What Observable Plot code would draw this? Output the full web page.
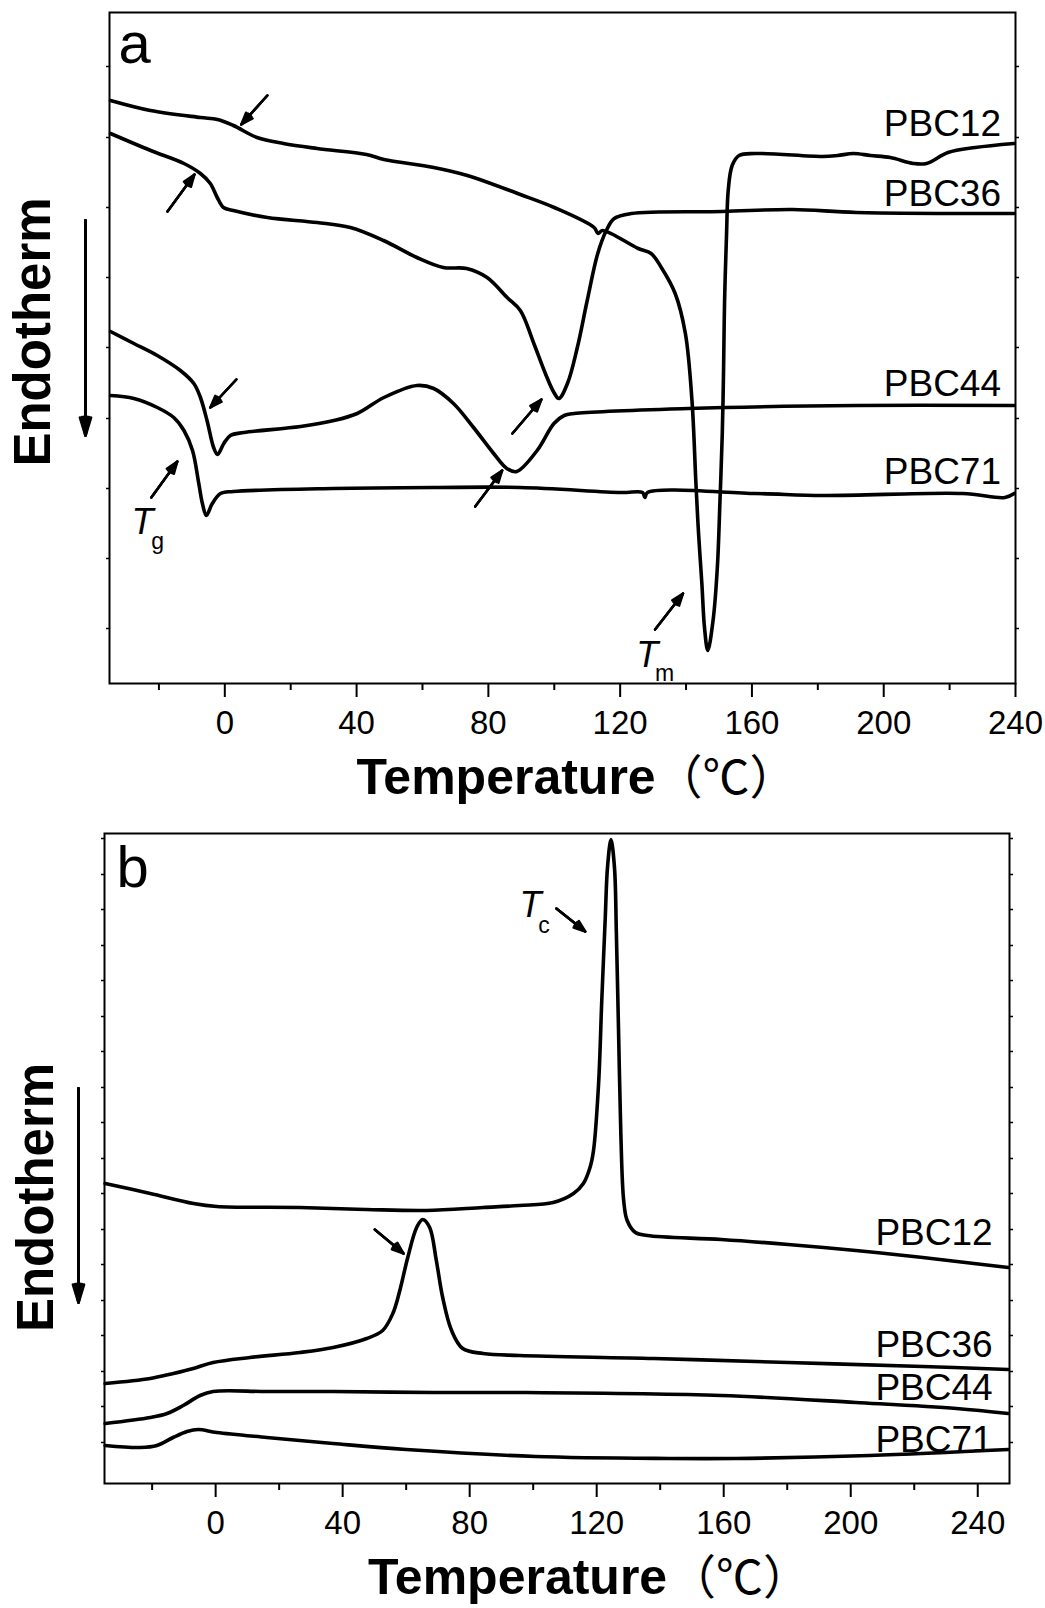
<!DOCTYPE html>
<html>
<head>
<meta charset="utf-8">
<script src="https://cdn.jsdelivr.net/npm/d3@7"></script>
<script src="https://cdn.jsdelivr.net/npm/@observablehq/plot@0.6"></script>
<style>
  body { margin: 0; background: #fff; }
  #chart svg { display: block; }
</style>
</head>
<body>
<div id="chart"></div>
<script>
// ---------- shared ----------
const seriesNames = ["PBC12", "PBC36", "PBC44", "PBC71"];
const xMajorTicks = [0, 40, 80, 120, 160, 200, 240];
const xMinorTicks = [-20, 20, 60, 100, 140, 180, 220];
const xLabelMain = "Temperature";
const xLabelUnit = "（℃）";
const yLabel = "Endotherm";

// ---------- panel a (heating): [temperature °C, heat flow a.u.] ----------
const aPBC12 = [[-34.7,58.3],[-22.6,57.3],[-7.4,56.6],[-2.2,56.4],[2.6,55.8],[9.8,54.6],[17.8,54.0],[28,53.5],[43,52.9],[48.3,52.4],[63.4,51.6],[73.6,50.8],[89.7,48.9],[100,47.6],[112.1,45.6],[113.3,45.0],[114.6,45.3],[125.5,43.5],[129.4,43.0],[132.5,41.6],[136.7,39.0],[139.8,35.0],[141.8,28.3],[143,20.0],[143.8,15.0],[144.8,10.0],[145.6,5.6],[146.6,3.3],[148.2,6.3],[149.5,11.6],[150.3,18.3],[151,25.0],[151.4,31.6],[151.7,38.3],[152.3,45.0],[152.8,49.3],[154,51.8],[156.1,52.8],[161,53.0],[181.6,52.7],[186,52.8],[190.8,53.0],[196,52.8],[202,52.6],[209,52.0],[213,52.0],[219.5,53.1],[227.8,53.6],[239.6,54.0]];
const aPBC36 = [[-34.7,55.0],[-22.5,53.3],[-12.4,52.0],[-7.4,51.0],[-4.4,50.0],[-2.3,48.6],[-0.4,47.6],[2.6,47.3],[12.9,46.6],[28,46.1],[38.1,45.6],[48.2,44.3],[58.3,42.6],[66.3,41.6],[73.4,41.5],[79.6,40.6],[85.7,38.6],[89.7,37.3],[93.8,34.0],[97.3,31.0],[99.9,29.1],[101.4,28.5],[104,30.0],[107,33.6],[110,38.3],[113.2,43.0],[115.8,45.3],[118.2,46.5],[123.4,47.0],[151,47.2],[172.4,47.4],[191.7,47.1],[239.6,47.0]];
const aPBC44 = [[-34.7,35.2],[-27.6,34.0],[-20.5,32.8],[-13.5,31.3],[-9.4,30.0],[-7.4,28.6],[-5.4,26.3],[-3.4,23.6],[-2.2,22.9],[-0.3,24.0],[1.7,24.8],[5.8,25.1],[23,25.7],[33.1,26.3],[40.2,27.0],[48.3,28.6],[58.3,29.8],[63.4,29.5],[69.4,28.0],[75.5,25.6],[81.6,23.0],[85.6,21.5],[88.6,21.2],[94.8,23.3],[99.9,26.0],[103,26.8],[106,27.0],[140.7,27.5],[191.9,27.8],[239.6,27.8]];
const aPBC71 = [[-34.7,28.8],[-27.6,28.5],[-20.5,27.6],[-15.5,26.6],[-12.4,25.3],[-9.8,23.3],[-7.9,20.0],[-6.8,18.0],[-5.6,16.8],[-3.8,18.0],[-1.3,19.0],[2.6,19.2],[33,19.5],[63.4,19.6],[89.7,19.6],[120.3,19.1],[126.8,19.1],[127.5,18.6],[128.3,19.1],[161.2,19.0],[181.6,18.8],[224,19.0],[236.8,18.6],[239.6,19.0]];

// ---------- panel b (cooling) ----------
const bPBC12 = [[-34.8,30.0],[-20.6,29.0],[-7,28.0],[0.4,27.7],[26.5,27.6],[47.5,27.4],[66.4,27.3],[84.2,27.6],[95.7,27.8],[106.3,28.1],[112.7,29.0],[115.8,30.0],[117.9,31.6],[119,33.3],[120.6,40.0],[121.6,48.3],[122.7,56.6],[123.4,61.6],[124.5,64.4],[125.6,61.6],[126.2,55.0],[126.9,45.0],[127.6,35.0],[128.5,28.3],[129.6,26.3],[132.2,25.1],[135.9,24.8],[159.2,24.4],[180.3,23.9],[201.6,23.3],[222.7,22.6],[249.6,21.6]];
const bPBC36 = [[-34.8,10.0],[-20.6,10.5],[-13.3,11.0],[-7,11.5],[-0.8,12.1],[10.8,12.6],[26.5,13.1],[37,13.6],[47.6,14.5],[52.6,15.3],[55.8,17.0],[58,19.3],[60.5,22.6],[63.3,25.6],[65.2,26.4],[67.4,25.6],[69.5,22.3],[71.5,18.6],[74.3,15.3],[77.8,13.5],[84.2,13.0],[95.7,12.8],[138,12.5],[180.3,12.1],[222.7,11.7],[249.6,11.4]];
const bPBC44 = [[-34.8,6.0],[-20.6,6.6],[-15.3,7.0],[-10.2,7.8],[-4.9,8.8],[-0.8,9.2],[16,9.2],[37,9.2],[68.4,9.1],[95.7,9.1],[159.2,8.8],[201.6,8.1],[233.3,7.5],[249.6,7.0]];
const bPBC71 = [[-34.8,3.8],[-23.8,3.6],[-18.5,3.8],[-13.4,4.6],[-9,5.2],[-5.5,5.4],[0.4,5.1],[16.1,4.6],[37,4.0],[60,3.4],[100.7,2.7],[142.8,2.5],[163.8,2.5],[206,2.8],[249.6,3.4]];

// ---------- annotations (data units) ----------
const aLabelT = 235.6;
const aLabelV = [54.8, 47.8, 28.8, 20.0];
const bLabelT = 244.7;
const bLabelV = [23.9, 12.7, 8.4, 3.2];
// small arrows: [t tail, v tail, t tip, v tip]
const aArrows = [[12.9,58.8,5.0,55.9],[-17.4,47.2,-9.2,50.9],[3.5,30.4,-4.4,27.6],[-22.3,18.6,-14.4,22.2],[76,17.7,84.2,21.3],[87.3,25.0,96.1,28.4],[130.6,5.4,139.1,9.0]];
const bArrows = [[107.3,57.5,116.4,55.2],[50.1,25.4,59.2,23.0]];
const aSymT = [[-28.3,15.0],[124.9,1.7]];
const aSymSub = [[-22.3,13.45,"g"],[130.6,0.3,"m"]];
const bSymT = [[95.7,56.7]];
const bSymSub = [[101.6,55.1,"c"]];
const aYTicks = [5.5,12.5,19.5,26.5,33.6,40.6,47.6,54.6,61.7];
const bYTicks = [4.1,7.7,11.2,14.8,18.3,21.9,25.4,29.0,32.5,36.1,39.6,43.2,46.7,50.3,53.8,57.4,60.9,64.5];
const aEndoArrow = [[46.3, 24.8]];
const bEndoArrow = [[39.5, 18.1]];

const FONT = "'Liberation Sans', Arial, Helvetica, sans-serif";
const CJK = "'Noto Sans CJK SC', 'Liberation Sans', sans-serif";

function rowsOf(list) {
  return list.flatMap((pts, i) => pts.map(([t, v]) => ({series: seriesNames[i], t, v})));
}

function filledArrows(data, opts = {}) {
  const {dx = 0, dy = 0, strokeWidth = 2.4, headLength = 8, headAngle = 40} = opts;
  return [headAngle, headAngle * 0.6, headAngle * 0.3].map((ang) =>
    Plot.arrow(data, {
      x1: (d) => d[0], y1: (d) => d[1], x2: (d) => d[2], y2: (d) => d[3],
      dx, dy, stroke: "black", strokeWidth, headLength, headAngle: ang
    })
  );
}

function panel(cfg) {
  const xMin = cfg.xDomain[0];
  return Plot.plot({
    width: 1045,
    height: cfg.height,
    marginTop: cfg.marginTop,
    marginBottom: cfg.marginBottom,
    marginLeft: cfg.marginLeft,
    marginRight: cfg.marginRight,
    style: {fontFamily: FONT, background: "white", color: "black", overflow: "visible"},
    x: {domain: cfg.xDomain, label: null},
    y: {domain: cfg.yDomain, label: null},
    marks: [
      Plot.axisX({ticks: xMajorTicks, tickSize: 14, tickPadding: cfg.tickPadding, fontSize: 33, strokeWidth: 2, label: null, tickFormat: (d) => String(d)}),
      Plot.axisX({ticks: xMinorTicks, tickSize: 7, strokeWidth: 2, label: null, tickFormat: () => ""}),
      Plot.axisY({anchor: "left", ticks: cfg.yTicks, tickSize: 3, strokeWidth: 1.5, label: null, tickFormat: () => ""}),
      Plot.axisY({anchor: "right", ticks: cfg.yTicks, tickSize: 3, strokeWidth: 1.5, label: null, tickFormat: () => ""}),
      Plot.frame({stroke: "black", strokeWidth: 2}),
      Plot.line(cfg.rows, {x: "t", y: "v", z: "series", curve: "catmull-rom", stroke: "black", strokeWidth: 3.6, strokeLinejoin: "round", strokeLinecap: "round"}),
      Plot.text(seriesNames, {x: () => cfg.labelT, y: (d, i) => cfg.labelV[i], text: (d) => d, textAnchor: "end", lineAnchor: "bottom", fontSize: 37, fill: "black"}),
      ...filledArrows(cfg.arrows, {strokeWidth: 2.4, headLength: 8, headAngle: 40}),
      Plot.text(cfg.symT, {x: (d) => d[0], y: (d) => d[1], text: () => "T", textAnchor: "start", lineAnchor: "bottom", fontSize: 36, fontStyle: "italic", fill: "black"}),
      Plot.text(cfg.symSub, {x: (d) => d[0], y: (d) => d[1], text: (d) => d[2], textAnchor: "start", lineAnchor: "bottom", fontSize: 23, fill: "black"}),
      Plot.text([cfg.letter], {frameAnchor: "top-left", dx: cfg.letterDx, dy: cfg.letterDy, textAnchor: "start", lineAnchor: "bottom", fontSize: 58, fill: "black"}),
      Plot.text([yLabel], {frameAnchor: "left", dx: cfg.endoDx, dy: cfg.endoDy, rotate: -90, textAnchor: "middle", lineAnchor: "middle", fontSize: 51, fontWeight: "bold", fill: "black"}),
      ...filledArrows(cfg.endoArrow.map(([v1, v2]) => [xMin, v1, xMin, v2]), {dx: cfg.arrowDx, strokeWidth: 2.8, headLength: 10, headAngle: 34}),
      Plot.text([xLabelMain], {frameAnchor: "bottom", dx: cfg.tempDx, dy: cfg.tempDy, textAnchor: "start", lineAnchor: "bottom", fontSize: 50, fontWeight: "bold", fill: "black"}),
      Plot.text([xLabelUnit], {frameAnchor: "bottom", dx: cfg.unitDx, dy: cfg.tempDy, textAnchor: "start", lineAnchor: "bottom", fontSize: 47, fontFamily: CJK, fill: "black"})
    ]
  });
}

const chart = document.getElementById("chart");
chart.append(panel({
  rows: rowsOf([aPBC12, aPBC36, aPBC44, aPBC71]),
  xDomain: [-35, 240], yDomain: [0, 67.1],
  height: 805, marginTop: 12, marginBottom: 122, marginLeft: 109, marginRight: 30,
  tickPadding: 13.5, yTicks: aYTicks,
  labelT: aLabelT, labelV: aLabelV, arrows: aArrows,
  symT: aSymT, symSub: aSymSub,
  letter: "a", letterDx: 9, letterDy: 50,
  endoDx: -76, endoDy: -16, endoArrow: aEndoArrow, arrowDx: -24,
  tempDx: -206, tempDy: 110, unitDx: 93
}));
chart.append(panel({
  rows: rowsOf([bPBC12, bPBC36, bPBC44, bPBC71]),
  xDomain: [-35, 250], yDomain: [0, 65],
  height: 803, marginTop: 28, marginBottom: 125, marginLeft: 104, marginRight: 36,
  tickPadding: 13.5, yTicks: bYTicks,
  labelT: bLabelT, labelV: bLabelV, arrows: bArrows,
  symT: bSymT, symSub: bSymSub,
  letter: "b", letterDx: 12, letterDy: 53,
  endoDx: -68, endoDy: 39, endoArrow: bEndoArrow, arrowDx: -26,
  tempDx: -189, tempDy: 110, unitDx: 112
}));
</script>
</body>
</html>
